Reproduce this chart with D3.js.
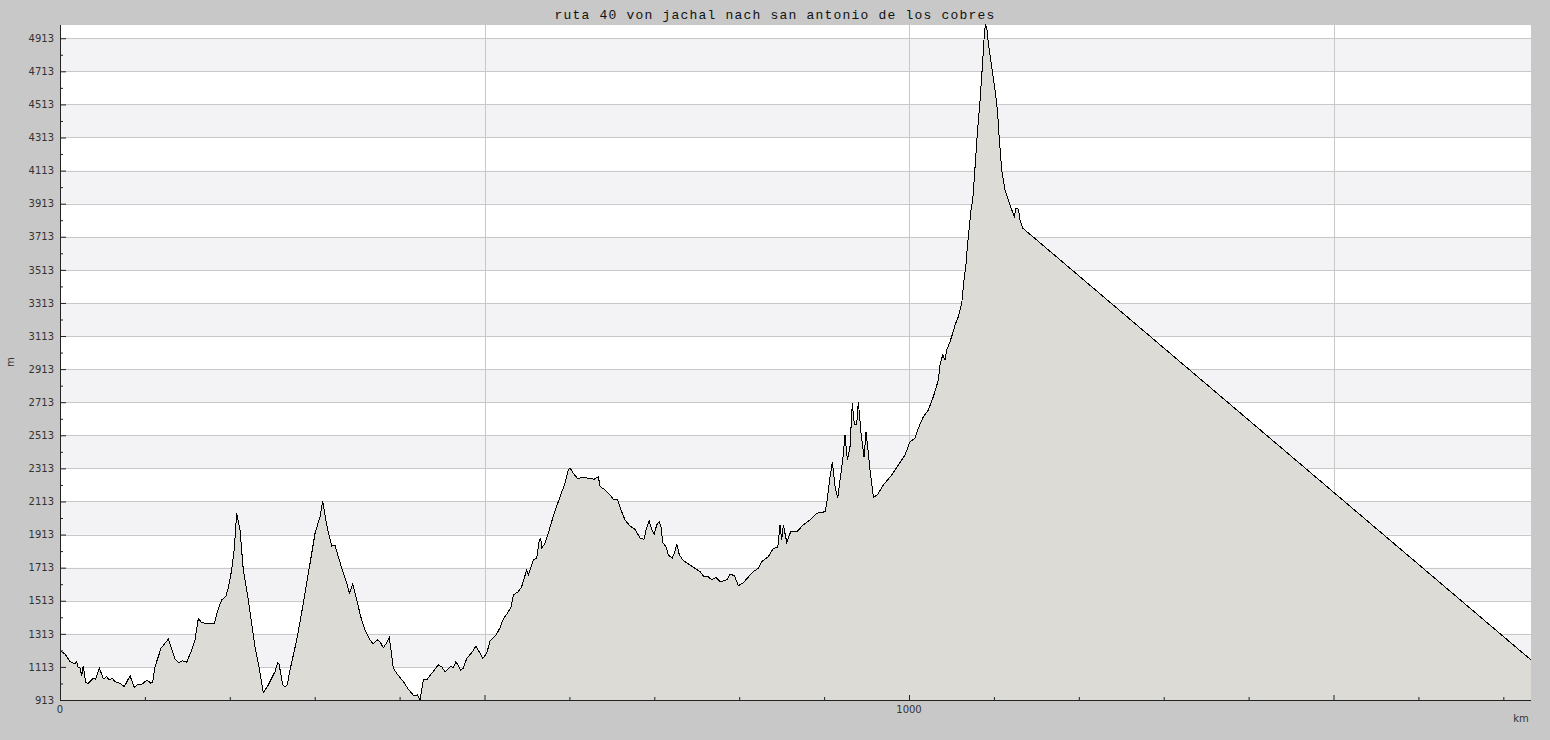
<!DOCTYPE html>
<html>
<head>
<meta charset="utf-8">
<script src="https://cdn.jsdelivr.net/npm/d3@7"></script>
<style>
  html, body { margin: 0; padding: 0; background: #c8c8c8; }
  svg { display: block; }
</style>
</head>
<body>
<svg id="chart" width="1550" height="740"></svg>
<script>
const title = "ruta 40 von jachal nach san antonio de los cobres";
const xUnit = "km";
const yUnit = "m";

const distanceKm = [
  0, 5.9, 11.8, 17.7, 19.7, 20.8, 23.6, 25.6, 27.4, 30.3, 33.3, 39.2, 42.1, 46.3, 51.0, 55.0, 58.1, 61.6, 64.8, 70.7,
  75.7, 82.5, 87.2, 92.2, 96.9, 102.5, 107.2, 109.2, 111.9, 119.0, 123.7, 127.6, 135.5, 140.2, 144.1, 149.2, 155.1, 159.0, 162.9, 166.9,
  172.8, 178.7, 181.7, 186.5, 190.5, 195.2, 198.2, 202.2, 205.3, 208.1, 212.0, 215.9, 221.8, 229.7, 233.6, 239.5, 245.4, 253.2, 256.4, 258.0,
  262.3, 265.0, 267.7, 270.9, 278.8, 286.6, 294.5, 300.4, 306.3, 309.4, 314.1, 320.0, 323.9, 327.8, 333.7, 337.7, 340.8, 344.8, 349.5, 354.2,
  359.3, 365.1, 369.0, 373.7, 376.9, 380.8, 384.8, 387.9, 392.6, 396.6, 404.4, 410.3, 417.0, 420.9, 424.0, 427.9, 431.9, 437.8, 445.6, 449.6,
  453.5, 459.4, 463.3, 466.4, 472.0, 475.0, 479.1, 484.9, 490.0, 497.9, 502.6, 506.7, 513.6, 518.0, 522.5, 527.0, 531.5, 534.0, 539.8, 543.8,
  549.7, 551.6, 555.6, 557.5, 561.5, 564.6, 566.2, 567.4, 571.3, 576.3, 580.3, 586.9, 594.8, 598.7, 600.7, 604.6, 609.3, 616.4, 624.3, 629.0,
  634.1, 636.1, 642.0, 647.8, 651.7, 656.4, 661.6, 665.5, 671.4, 677.3, 683.2, 687.9, 690.3, 693.8, 697.0, 700.0, 702.8, 705.6, 707.9, 709.9,
  713.8, 716.5, 721.2, 724.1, 726.4, 729.5, 734.2, 742.1, 748.0, 753.9, 758.6, 763.6, 767.6, 772.7, 777.4, 785.3, 789.2, 794.3, 799.0, 804.9,
  812.8, 816.6, 822.5, 826.5, 834.3, 840.2, 845.4, 848.1, 850.1, 852.0, 856.0, 860.7, 867.8, 875.5, 883.4, 891.3, 901.1, 903.1, 906.2, 909.7,
  912.9, 916.0, 918.8, 921.9, 924.6, 927.4, 930.5, 933.2, 935.6, 938.4, 940.3, 943.5, 947.0, 949.4, 954.1, 958.0, 962.7, 969.7, 979.6, 987.4,
  995.3, 1001.2, 1007.1, 1011.0, 1016.9, 1022.8, 1028.7, 1034.6, 1036.5, 1039.7, 1042.4, 1044.4, 1048.3, 1051.5, 1054.2, 1058.1, 1062.1, 1064.8, 1067.2, 1068.7,
  1071.1, 1073.1, 1075.1, 1077.8, 1080.5, 1083.7, 1086.4, 1088.8, 1089.9, 1091.6, 1093.4, 1097.4, 1101.3, 1104.1, 1106.4, 1109.2, 1113.1, 1117.0, 1121.0, 1124.1,
  1126.1, 1128.8, 1130.8, 1134.0, 1732.6
];

const elevationM = [
  1212, 1191, 1145, 1131, 1145, 1114, 1106, 1060, 1120, 1018, 1014, 1044, 1038, 1108, 1040, 1054, 1034, 1044, 1024, 1014,
  993, 1060, 990, 1008, 1010, 1034, 1014, 1024, 1114, 1226, 1256, 1280, 1159, 1139, 1151, 1141, 1215, 1276, 1405, 1380,
  1377, 1377, 1373, 1467, 1518, 1538, 1588, 1699, 1830, 2042, 1941, 1699, 1518, 1235, 1135, 957, 1004, 1084, 1139, 1131,
  1004, 990, 1004, 1094, 1276, 1498, 1739, 1921, 2021, 2118, 1971, 1844, 1850, 1779, 1679, 1619, 1558, 1614, 1518, 1417,
  1336, 1276, 1252, 1276, 1265, 1229, 1259, 1292, 1105, 1074, 1024, 978, 937, 943, 913, 1034, 1034, 1074, 1125, 1114,
  1084, 1114, 1111, 1145, 1094, 1105, 1165, 1199, 1239, 1165, 1195, 1272, 1306, 1347, 1407, 1437, 1477, 1548, 1568, 1598,
  1699, 1669, 1729, 1759, 1770, 1880, 1891, 1830, 1860, 1941, 2012, 2112, 2223, 2304, 2317, 2284, 2253, 2257, 2253, 2247,
  2263, 2203, 2183, 2152, 2126, 2126, 2051, 2001, 1965, 1945, 1891, 1885, 1941, 1997, 1941, 1917, 1971, 1991, 1957, 1864,
  1840, 1790, 1770, 1810, 1856, 1790, 1755, 1729, 1709, 1689, 1658, 1658, 1639, 1655, 1628, 1639, 1673, 1665, 1604, 1622,
  1669, 1689, 1709, 1749, 1779, 1830, 1836, 1971, 1880, 1971, 1866, 1931, 1931, 1971, 2001, 2042, 2051, 2102, 2233, 2354,
  2203, 2132, 2243, 2364, 2515, 2364, 2444, 2707, 2576, 2576, 2717, 2525, 2380, 2535, 2304, 2139, 2152, 2213, 2273, 2334,
  2394, 2475, 2495, 2556, 2626, 2666, 2747, 2848, 2938, 2999, 2969, 3029, 3079, 3130, 3180, 3230, 3311, 3452, 3553, 3654,
  3775, 3876, 3936, 4137, 4339, 4541, 4742, 4944, 4993, 4974, 4883, 4742, 4601, 4480, 4299, 4117, 3996, 3936, 3876, 3835,
  3886, 3880, 3815, 3765, 1155
];

const yTickValues = [913, 1113, 1313, 1513, 1713, 1913, 2113, 2313, 2513, 2713, 2913, 3113, 3313, 3513, 3713, 3913, 4113, 4313, 4513, 4713, 4913];
const xLabelValues = [0, 1000];
const xGridValues = [500, 1000, 1500];

const data = distanceKm.map((d, i) => ({ km: d, m: elevationM[i] }));

const svg = d3.select("#chart");
const W = 1550, H = 740;
const margin = { left: 60, right: 19, top: 25, bottom: 40 };
const plotW = W - margin.left - margin.right;
const plotH = H - margin.top - margin.bottom;

const x = d3.scaleLinear().domain(d3.extent(distanceKm)).range([margin.left, margin.left + plotW]);
const y = d3.scaleLinear().domain(d3.extent(elevationM)).range([margin.top + plotH, margin.top]);

// plot background
svg.append("rect").attr("x", margin.left).attr("y", margin.top).attr("width", plotW).attr("height", plotH).attr("fill", "#ffffff");

// alternating bands
const bands = svg.append("g");
for (let i = 0; i < yTickValues.length - 1; i++) {
  if (i % 2 === 1) {
    const a = yTickValues[i], b = yTickValues[i + 1];
    bands.append("rect")
      .attr("x", margin.left).attr("width", plotW)
      .attr("y", y(b)).attr("height", y(a) - y(b))
      .attr("fill", "#f3f2f5");
  }
}

// grid lines
const grid = svg.append("g").attr("stroke", "#c8c8c8").attr("stroke-width", 1).attr("shape-rendering", "crispEdges");
yTickValues.forEach(v => {
  grid.append("line").attr("x1", margin.left).attr("x2", margin.left + plotW).attr("y1", Math.round(y(v)) + 0.5).attr("y2", Math.round(y(v)) + 0.5);
});
xGridValues.forEach(v => {
  grid.append("line").attr("y1", margin.top).attr("y2", margin.top + plotH).attr("x1", Math.round(x(v)) + 0.5).attr("x2", Math.round(x(v)) + 0.5);
});

// area + line
const area = d3.area().x(d => x(d.km)).y0(y(d3.min(elevationM))).y1(d => y(d.m));
const line = d3.line().x(d => x(d.km)).y(d => y(d.m));
svg.append("path").datum(data).attr("d", area).attr("fill", "#dcdbd6");
svg.append("path").datum(data).attr("d", line).attr("fill", "none").attr("stroke", "#000").attr("stroke-width", 1)
  .attr("shape-rendering", "crispEdges");

// axes
const axisColor = "#222";
const fontFam = "'DejaVu Sans', sans-serif";

// Y axis: ticks inside plot
const yAxis = d3.axisRight(y).tickValues(yTickValues).tickSize(6).tickFormat(d3.format("d"));
const yg = svg.append("g").attr("transform", `translate(${margin.left},0)`).call(yAxis);
yg.select(".domain").remove();
yg.selectAll("line").attr("stroke", axisColor);
yg.selectAll("text").attr("x", -6).attr("text-anchor", "end").attr("font-family", fontFam).attr("font-size", 10).attr("fill", "#333");
const yMinor = d3.axisRight(y).tickValues(yTickValues.slice(0, -1).map((v, i) => (v + yTickValues[i + 1]) / 2)).tickSize(3).tickFormat("");
const ym = svg.append("g").attr("transform", `translate(${margin.left},0)`).call(yMinor);
ym.select(".domain").remove();
ym.selectAll("line").attr("stroke", axisColor);

// X axis: ticks inside plot (upward)
const xMinorVals = d3.range(100, x.domain()[1], 100);
const xAxisMinor = d3.axisTop(x).tickValues(xMinorVals.filter(v => v % 500 !== 0)).tickSize(3).tickFormat("");
const xm = svg.append("g").attr("transform", `translate(0,${margin.top + plotH})`).call(xAxisMinor);
xm.select(".domain").remove();
xm.selectAll("line").attr("stroke", axisColor);
const xAxisMajor = d3.axisTop(x).tickValues([0, 500, 1000, 1500]).tickSize(5).tickFormat("");
const xM = svg.append("g").attr("transform", `translate(0,${margin.top + plotH})`).call(xAxisMajor);
xM.select(".domain").remove();
xM.selectAll("line").attr("stroke", axisColor);

svg.append("g").selectAll("text").data(xLabelValues).join("text")
  .attr("x", d => x(d)).attr("y", margin.top + plotH + 13)
  .attr("text-anchor", "middle").attr("font-family", fontFam).attr("font-size", 10).attr("fill", "#333")
  .text(d => d);

// axis lines
svg.append("line").attr("x1", margin.left + 0.5).attr("x2", margin.left + 0.5).attr("y1", margin.top).attr("y2", margin.top + plotH + 0.5).attr("stroke", axisColor);
svg.append("line").attr("x1", margin.left).attr("x2", margin.left + plotW).attr("y1", margin.top + plotH + 0.5).attr("y2", margin.top + plotH + 0.5).attr("stroke", axisColor);

// unit labels
svg.append("text").attr("x", 1521).attr("y", 722).attr("text-anchor", "middle").attr("font-family", fontFam).attr("font-size", 10).attr("fill", "#333").text(xUnit);
svg.append("text").attr("transform", "translate(14,362) rotate(-90)").attr("text-anchor", "middle").attr("font-family", fontFam).attr("font-size", 10).attr("fill", "#333").text(yUnit);

// title
svg.append("text").attr("x", W / 2).attr("y", 19).attr("text-anchor", "middle")
  .attr("font-family", "'Liberation Mono', 'DejaVu Sans Mono', monospace").attr("font-size", 13)
  .attr("letter-spacing", "1.2px").attr("fill", "#111").text(title);
</script>
</body>
</html>
